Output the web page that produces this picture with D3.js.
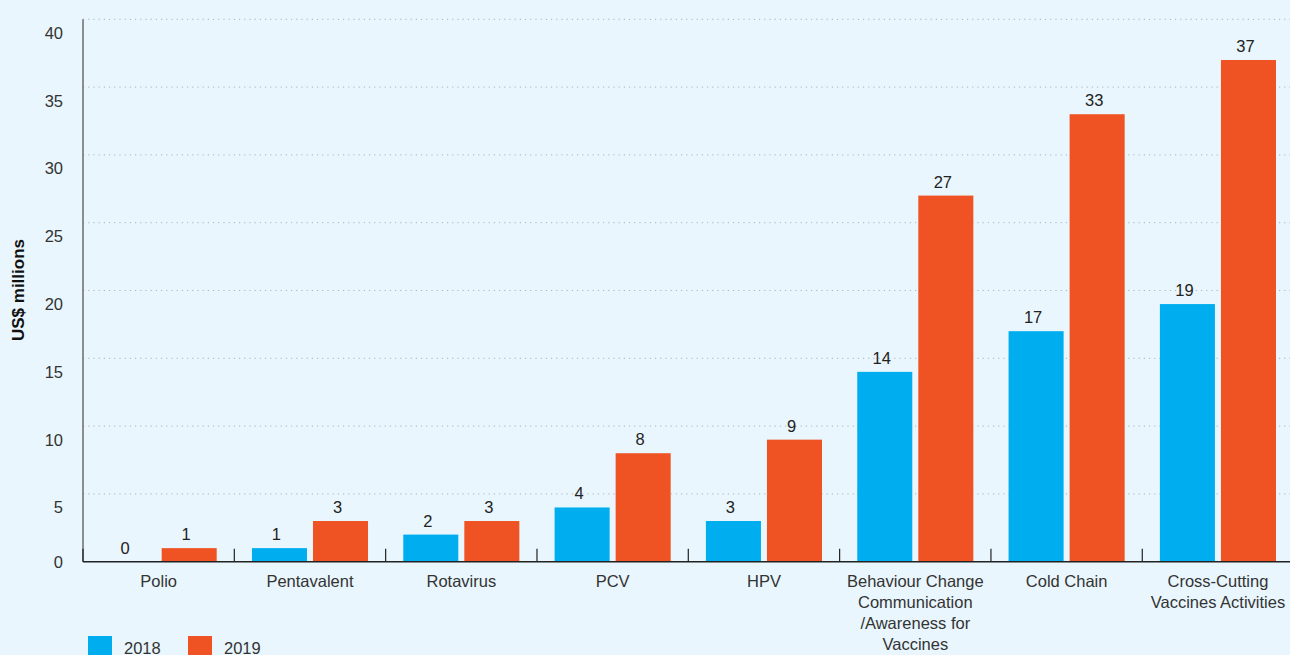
<!DOCTYPE html>
<html>
<head>
<meta charset="utf-8">
<script src="https://cdn.jsdelivr.net/npm/d3@7"></script>
<style>
  html, body { margin: 0; padding: 0; background: #e9f6fd; }
  svg { display: block; font-family: "Liberation Sans", Arial, sans-serif; }
</style>
</head>
<body>
<svg id="chart" width="1290" height="655"></svg>
<script>
const categories = [
  ["Polio"],
  ["Pentavalent"],
  ["Rotavirus"],
  ["PCV"],
  ["HPV"],
  ["Behaviour Change", "Communication", "/Awareness for", "Vaccines"],
  ["Cold Chain"],
  ["Cross-Cutting", "Vaccines Activities"]
];
const series = ["2018", "2019"];
const values2018 = [0, 1, 2, 4, 3, 14, 17, 19];
const values2019 = [1, 3, 3, 8, 9, 27, 33, 37];
const yTicks = [0, 5, 10, 15, 20, 25, 30, 35, 40];
const colors = ["#00aeef", "#f05323"];

(function () {
const svg = d3.select("#chart");
const W = 1290, H = 655;
const mLeft = 83, mRight = 1293.6, mTop = 19.3, mBottom = 561.7;

const keys = categories.map((c, i) => i);
const x = d3.scaleBand().domain(keys).range([mLeft, mRight]).paddingInner(0).paddingOuter(0);
const xInner = d3.scaleBand().domain(series).range([0, x.bandwidth()]).paddingInner(6 / 61).paddingOuter(17.6 / 61);
const y = d3.scaleLinear().domain([0, 40]).range([mBottom, mTop]);

// gridlines
svg.append("g").selectAll("line").data(yTicks.filter(d => d > 0)).join("line")
  .attr("x1", mLeft).attr("x2", W)
  .attr("y1", d => y(d)).attr("y2", d => y(d))
  .attr("stroke", "#a9b4ba").attr("stroke-width", 1)
  .attr("stroke-dasharray", "1.2,4");

// y tick labels
svg.append("g").selectAll("text").data(yTicks).join("text")
  .attr("x", 63).attr("y", d => d === 0 ? y(d) : y(d) + 13.5)
  .attr("dy", "0.36em")
  .attr("text-anchor", "end")
  .attr("font-size", 16.5).attr("fill", "#333")
  .text(d => d);

// y axis title
svg.append("text")
  .attr("transform", "translate(24,290) rotate(-90)")
  .attr("text-anchor", "middle")
  .attr("font-size", 17).attr("font-weight", "bold").attr("fill", "#111")
  .text("US$ millions");

// bars
const data = keys.map(i => ({ i, vals: [values2018[i], values2019[i]] }));
const groups = svg.append("g").selectAll("g").data(data).join("g")
  .attr("transform", d => `translate(${x(d.i)},0)`);
groups.selectAll("rect").data(d => d.vals.map((v, k) => ({ v, s: series[k], k }))).join("rect")
  .attr("x", d => xInner(d.s)).attr("width", xInner.bandwidth())
  .attr("y", d => y(d.v)).attr("height", d => y(0) - y(d.v))
  .attr("fill", d => colors[d.k]);
groups.selectAll("text.val").data(d => d.vals.map((v, k) => ({ v, s: series[k], k }))).join("text")
  .attr("class", "val")
  .attr("x", d => xInner(d.s) + xInner.bandwidth() / 2 - 3)
  .attr("y", d => y(d.v) - 8)
  .attr("text-anchor", "middle")
  .attr("font-size", 16.5).attr("fill", "#222")
  .text(d => d.v);

// y axis line
svg.append("line").attr("x1", mLeft).attr("x2", mLeft).attr("y1", mTop).attr("y2", mBottom)
  .attr("stroke", "#6b6b6b").attr("stroke-width", 1.5);

// baseline
svg.append("line").attr("x1", mLeft).attr("x2", W).attr("y1", mBottom).attr("y2", mBottom)
  .attr("stroke", "#222").attr("stroke-width", 1.5);

// category separator ticks
svg.append("g").selectAll("line").data(keys).join("line")
  .attr("x1", d => x(d)).attr("x2", d => x(d))
  .attr("y1", mBottom - 13).attr("y2", mBottom)
  .attr("stroke", "#222").attr("stroke-width", 1.2);

// category labels
const lab = svg.append("g").selectAll("text").data(keys).join("text")
  .attr("text-anchor", "middle")
  .attr("font-size", 16.5).attr("fill", "#333")
  .attr("transform", d => `translate(${x(d) + x.bandwidth() / 2},587)`);
lab.selectAll("tspan").data(d => categories[d]).join("tspan")
  .attr("x", 0).attr("dy", (d, i) => i === 0 ? 0 : 21)
  .text(d => d);

// legend
const leg = svg.append("g").selectAll("g").data(series).join("g")
  .attr("transform", (d, i) => `translate(${88 + i * 100},636)`);
leg.append("rect").attr("width", 24).attr("height", 24).attr("fill", (d, i) => colors[i]);
leg.append("text").attr("x", 36).attr("y", 18).attr("font-size", 16.5).attr("fill", "#333").text(d => d);
})();
</script>
</body>
</html>
